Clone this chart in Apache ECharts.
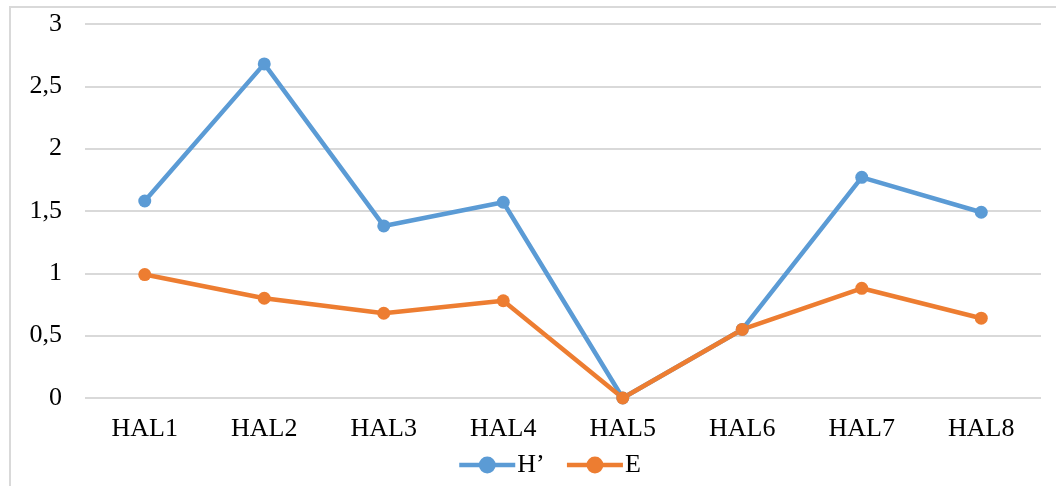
<!DOCTYPE html>
<html>
<head>
<meta charset="utf-8">
<script src="https://cdn.jsdelivr.net/npm/echarts@6/dist/echarts.min.js"></script>
<style>
  html, body { margin: 0; padding: 0; background: #fff; }
  #chart { width: 1056px; height: 486px; }
</style>
</head>
<body>
<div id="chart"></div>
<script>
var categories = ['HAL1', 'HAL2', 'HAL3', 'HAL4', 'HAL5', 'HAL6', 'HAL7', 'HAL8'];
var valuesH = [1.58, 2.68, 1.38, 1.57, 0, 0.55, 1.77, 1.49];
var valuesE = [0.99, 0.80, 0.68, 0.78, 0, 0.55, 0.88, 0.64];
var seriesNames = ['H\u2019', 'E'];

var chart = echarts.init(document.getElementById('chart'));
var font = '"Liberation Serif", "Times New Roman", serif';

var option = {
  animation: false,
  textStyle: { fontFamily: font },
  graphic: [{
    type: 'rect',
    shape: { x: 10, y: 7, width: 1060, height: 490 },
    style: { fill: 'none', stroke: '#d9d9d9', lineWidth: 2 },
    silent: true
  }],
  grid: { left: 85, right: 15, top: 24, bottom: 88 },
  legend: {
    data: seriesNames,
    bottom: 3,
    left: 452,
    itemWidth: 56,
    itemHeight: 21,
    itemGap: 20,
    lineStyle: { width: 4.5 },
    textStyle: { fontFamily: font, fontSize: 26, color: '#000', padding: [0, 0, 0, -3] }
  },
  xAxis: {
    type: 'category',
    data: categories,
    axisLine: { show: false },
    axisTick: { show: false },
    axisLabel: { fontFamily: font, fontSize: 26, color: '#000', margin: 18 }
  },
  yAxis: {
    type: 'value',
    min: 0,
    max: 3,
    interval: 0.5,
    axisLine: { show: false },
    axisTick: { show: false },
    splitLine: { lineStyle: { color: '#d9d9d9', width: 2 } },
    axisLabel: {
      fontFamily: font, fontSize: 26, color: '#000', margin: 23,
      formatter: function (v) { return String(v).replace('.', ','); }
    }
  },
  series: [{
    name: seriesNames[0],
    type: 'line',
    data: valuesH,
    color: '#5B9BD5',
    symbol: 'circle',
    symbolSize: 13,
    lineStyle: { width: 4.5 }
  }, {
    name: seriesNames[1],
    type: 'line',
    data: valuesE,
    color: '#ED7D31',
    symbol: 'circle',
    symbolSize: 13,
    lineStyle: { width: 4.5 }
  }]
};
chart.setOption(option);
</script>
</body>
</html>
